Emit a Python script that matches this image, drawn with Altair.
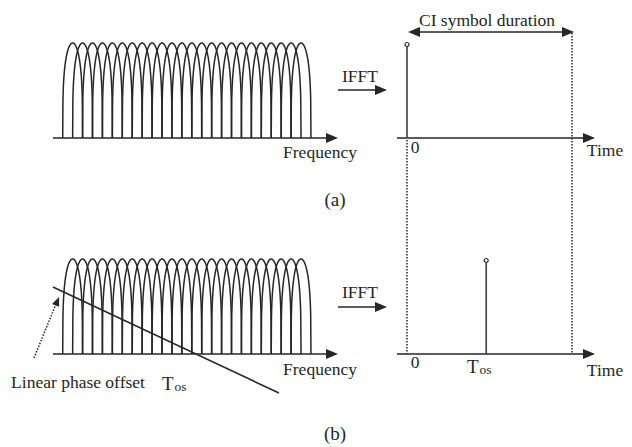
import numpy as np
import pandas as pd
import altair as alt

W, H = 632, 447
INK = "#262626"
FONT = "Liberation Serif"

# ---- diagram content ---------------------------------------------------
n_sub = 24                       # number of CI subcarriers
sub_index = list(range(n_sub))
panel_names = ["a", "b"]
pulse_time = [0.0, 0.48]         # pulse position in symbol durations (0 and T_os)
symbol_end = 1.0                 # end of the CI symbol (symbol durations)

# ---- layout: panel coordinate systems -> figure units ----------------------
F0, DF = 62.7, 9.93              # frequency: figure x = F0 + DF * f (f in subcarrier spacings)
T0, DT = 407.0, 165.0            # time: figure x = T0 + DT * t (t in symbol durations)
BASE = [138.0, 354.0]            # baseline of each panel
AMP = [95.0, 95.0]               # full-scale amplitude of each panel


def fx(f):
    return F0 + DF * f


def tx(t):
    return T0 + DT * t


# subcarrier main lobes, each two subcarrier spacings wide
u = np.linspace(-1, 1, 81)
lobe = (1 - u ** 2) ** 0.3
rows = []
for p, name in enumerate(panel_names):
    for k in sub_index:
        c = k + 1
        for i, (uu, s) in enumerate(zip(u, lobe)):
            rows.append(dict(x=fx(c + uu), y=BASE[p] - AMP[p] * s, grp=f"{name}{k}", i=i))
lobes = pd.DataFrame(rows)

# solid line segments
seg = []
for p in range(2):
    seg.append((fx(-0.98), BASE[p], 333, BASE[p]))        # frequency axis
    seg.append((397, BASE[p], 590, BASE[p]))              # time axis
    seg.append((338, [90, 307][p], 382, [90, 307][p]))    # IFFT arrow
seg.append((tx(0) + 4, 32, tx(symbol_end) - 3, 32))      # symbol duration span
seg.append((53, 287, 279, 393))                          # linear phase ramp
solid = pd.DataFrame(seg, columns=["x", "y", "x2", "y2"])

# stems of the time-domain pulses
stems = pd.DataFrame(
    [(tx(pulse_time[p]), BASE[p], BASE[p] - AMP[p] + 4) for p in range(2)],
    columns=["x", "y", "y2"],
)
tips = pd.DataFrame(
    [(tx(pulse_time[p]), BASE[p] - AMP[p] + 1.5) for p in range(2)], columns=["x", "y"]
)

# dotted guides
dots = pd.DataFrame(
    [
        (tx(0), BASE[0] + 2, tx(0), BASE[1]),
        (tx(symbol_end), 33, tx(symbol_end), BASE[1]),
        (34, 358, 56, 304),
    ],
    columns=["x", "y", "x2", "y2"],
)

# arrow heads: tip position and direction (degrees, clockwise from +x)
heads_big = [
    (338, BASE[0], 0), (338, BASE[1], 0),
    (595, BASE[0], 0), (595, BASE[1], 0),
    (387, 90, 0), (387, 307, 0),
    (tx(0) + 1, 32, 180), (tx(symbol_end) + 2, 32, 0),
]
heads_small = [(59, 297, 292.3)]


def head_frame(items, length):
    out = []
    for x, y, a in items:
        r = np.deg2rad(a)
        out.append(dict(x=x - length / 2 * np.cos(r), y=y - length / 2 * np.sin(r), ang=a))
    return pd.DataFrame(out)


big = head_frame(heads_big, 12)
small = head_frame(heads_small, 9)

# labels
labels = pd.DataFrame(
    [
        ("CI symbol duration", 487, 26, 17.5, "center"),
        ("IFFT", 360, 82, 17.5, "center"),
        ("IFFT", 360, 298, 17.5, "center"),
        ("Frequency", 320, 158, 17.5, "center"),
        ("Frequency", 320, 375, 17.5, "center"),
        ("Time", 605, 156, 17.5, "center"),
        ("Time", 605, 376, 17.5, "center"),
        ("0", 415, 153, 17.5, "center"),
        ("0", 415, 368, 17.5, "center"),
        ("(a)", 335, 206, 19, "center"),
        ("(b)", 335, 440, 19, "center"),
        ("Linear phase offset", 78, 388, 17.5, "center"),
        ("T", 162, 390, 19, "left"),
        ("os", 174.5, 391, 13.5, "left"),
        ("T", 467, 373, 19, "left"),
        ("os", 479.5, 374, 13.5, "left"),
    ],
    columns=["text", "x", "y", "fs", "al"],
)

# ---- chart --------------------------------------------------------------
X = alt.X("x:Q", scale=alt.Scale(domain=[0, W], nice=False, zero=False), axis=None)
Y = alt.Y("y:Q", scale=alt.Scale(domain=[H, 0], nice=False, zero=False), axis=None)

lobe_layer = alt.Chart(lobes).mark_line(color=INK, strokeWidth=1.5).encode(
    x=X, y=Y, detail="grp:N", order="i:Q"
)
solid_layer = alt.Chart(solid).mark_rule(color=INK, strokeWidth=1.6).encode(
    x=X, y=Y, x2="x2:Q", y2="y2:Q"
)
stem_layer = alt.Chart(stems).mark_rule(color="#4a4a4a", strokeWidth=1.7).encode(
    x=X, y=Y, y2="y2:Q"
)
tip_layer = alt.Chart(tips).mark_point(
    shape="circle", filled=True, fill="white", stroke=INK, strokeWidth=1.2, size=16, opacity=1
).encode(x=X, y=Y)
dot_layer = alt.Chart(dots).mark_rule(color=INK, strokeWidth=1.5, strokeDash=[1.5, 1.5]).encode(
    x=X, y=Y, x2="x2:Q", y2="y2:Q"
)
arrow_path = "M1,0L-1,-0.85L-1,0.85Z"
big_layer = alt.Chart(big).mark_point(
    shape=arrow_path, filled=True, color=INK, size=144, opacity=1
).encode(x=X, y=Y, angle=alt.Angle("ang:Q", scale=None))
small_layer = alt.Chart(small).mark_point(
    shape=arrow_path, filled=True, color=INK, size=81, opacity=1
).encode(x=X, y=Y, angle=alt.Angle("ang:Q", scale=None))


def text_layer(align):
    return alt.Chart(labels[labels.al == align]).mark_text(
        font=FONT, color=INK, baseline="alphabetic", align=align
    ).encode(x=X, y=Y, text="text:N", size=alt.Size("fs:Q", scale=None))


chart = (
    alt.layer(
        lobe_layer, solid_layer, stem_layer, dot_layer, tip_layer,
        big_layer, small_layer, text_layer("center"), text_layer("left"),
    )
    .properties(width=W, height=H, padding=0, autosize=alt.AutoSizeParams(type="none"),
                background="white")
    .configure_view(stroke=None)
)

chart.save("out.html", embed_options={"renderer": "svg", "actions": False})
